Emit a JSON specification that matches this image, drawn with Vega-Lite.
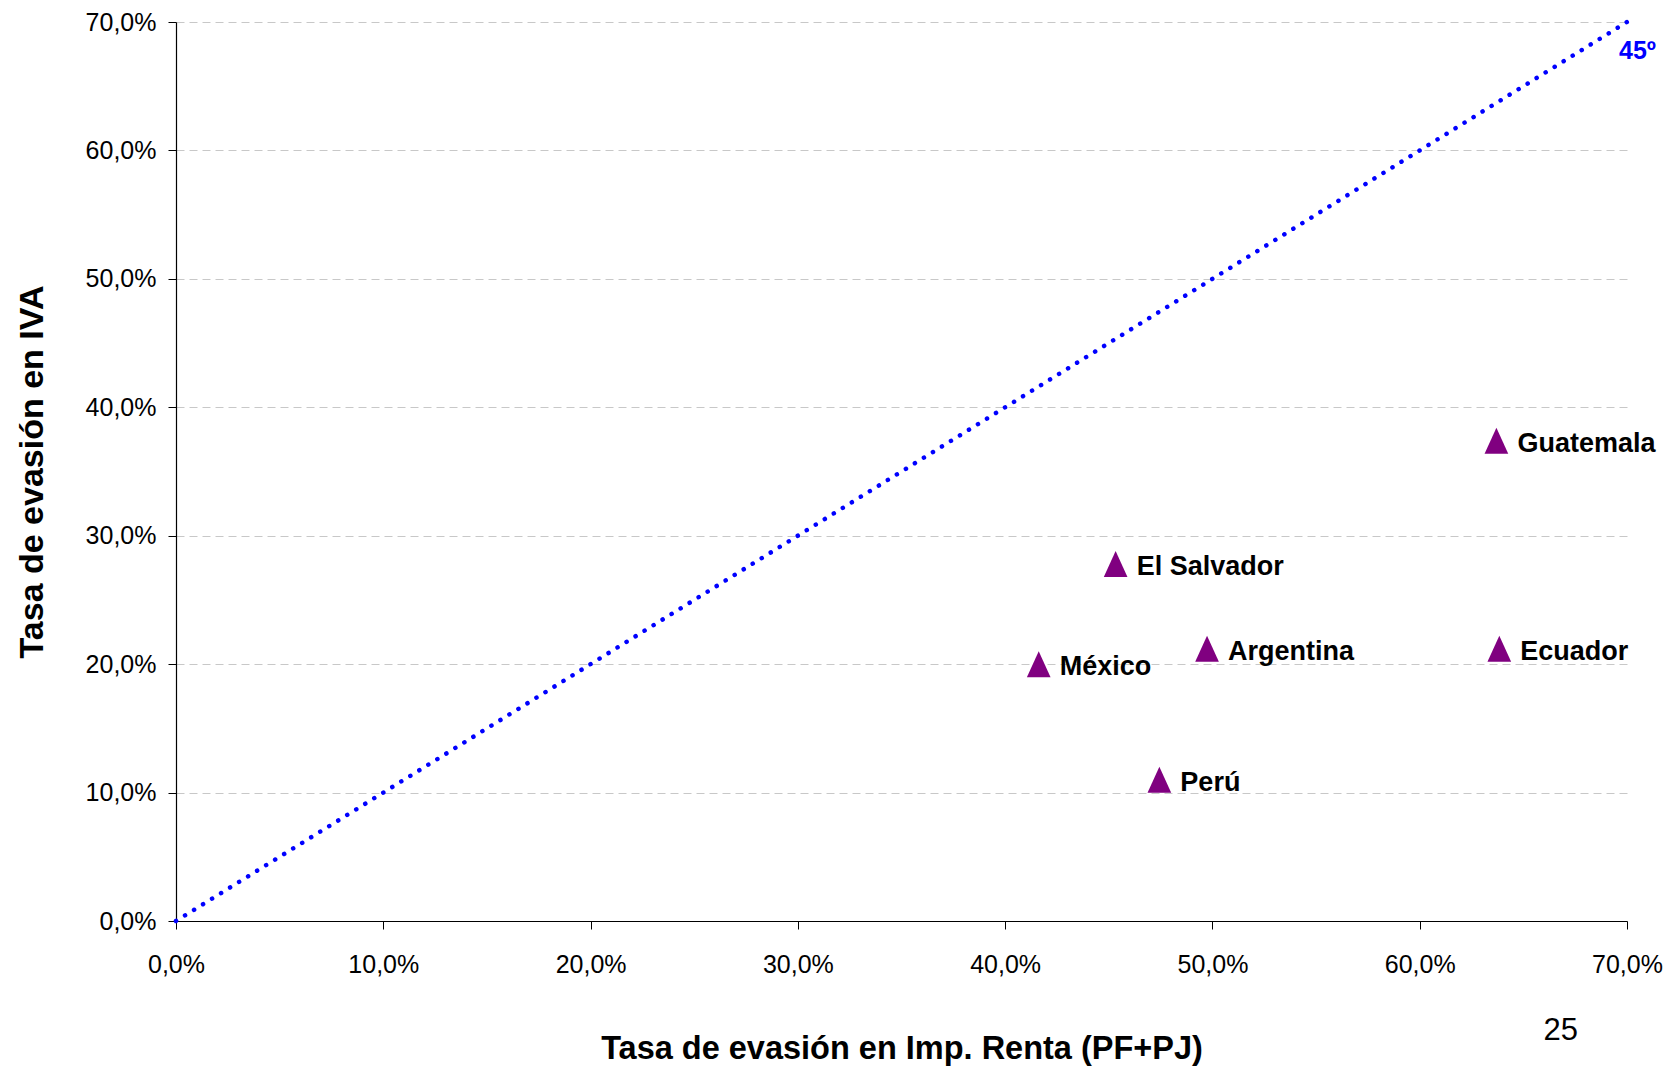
{
  "$schema": "https://vega.github.io/schema/vega-lite/v6.json",
  "width": 1451,
  "height": 899,
  "autosize": {"type": "none"},
  "padding": {"left": 176, "top": 22, "right": 42, "bottom": 145},
  "background": "white",
  "config": {
    "view": {"stroke": null},
    "font": "Liberation Sans",
    "axis": {
      "domainColor": "black",
      "domainWidth": 1.2,
      "tickColor": "black",
      "tickSize": 8,
      "labelFont": "Liberation Sans",
      "labelFontSize": 25,
      "labelColor": "black",
      "titleFont": "Liberation Sans",
      "titleFontSize": 34,
      "titleFontWeight": "bold",
      "titleColor": "black"
    }
  },
  "title": {
    "text": "25",
    "orient": "bottom",
    "anchor": "end",
    "frame": "group",
    "fontSize": 31,
    "fontWeight": "normal",
    "font": "Liberation Sans",
    "color": "black",
    "offset": 0,
    "dx": -49,
    "dy": -49
  },
  "datasets": {
    "paises": [
      {"pais": "Guatemala", "x": 0.637, "y": 0.374},
      {"pais": "El Salvador", "x": 0.4533, "y": 0.278},
      {"pais": "México", "x": 0.4162, "y": 0.200},
      {"pais": "Argentina", "x": 0.4974, "y": 0.212},
      {"pais": "Ecuador", "x": 0.6384, "y": 0.212},
      {"pais": "Perú", "x": 0.4744, "y": 0.110}
    ],
    "diag": [
      {"x": 0, "y": 0, "t": "45º"},
      {"x": 0.7, "y": 0.7, "t": "45º"}
    ]
  },
  "encoding": {
    "x": {
      "field": "x",
      "type": "quantitative",
      "scale": {"domain": [0, 0.7], "nice": false, "zero": true},
      "axis": {
        "values": [0, 0.1, 0.2, 0.3, 0.4, 0.5, 0.6, 0.7],
        "labelExpr": "replace(format(datum.value, '.1%'), '.', ',')",
        "labelFlush": false,
        "grid": false,
        "labelPadding": 23,
        "title": "Tasa de evasión en Imp. Renta (PF+PJ)",
        "titleFontSize": 32.5,
        "titlePadding": 55
      }
    },
    "y": {
      "field": "y",
      "type": "quantitative",
      "scale": {"domain": [0, 0.7], "nice": false, "zero": true},
      "axis": {
        "values": [0, 0.1, 0.2, 0.3, 0.4, 0.5, 0.6, 0.7],
        "labelExpr": "replace(format(datum.value, '.1%'), '.', ',')",
        "grid": true,
        "gridColor": "#c8c8c8",
        "gridDash": [8, 5],
        "gridWidth": 1,
        "labelPadding": 12,
        "title": "Tasa de evasión en IVA",
        "titlePadding": 36
      }
    }
  },
  "layer": [
    {
      "data": {"name": "diag"},
      "mark": {"type": "line", "color": "#0000FF", "strokeWidth": 4.5, "strokeDash": [0.1, 10.5], "strokeCap": "round"}
    },
    {
      "data": {"name": "diag"},
      "transform": [{"filter": "datum.x > 0.5"}],
      "mark": {"type": "text", "color": "#0000FF", "fontWeight": "bold", "fontSize": 25, "align": "left", "baseline": "middle", "dx": -8, "dy": 29},
      "encoding": {"text": {"field": "t"}}
    },
    {
      "data": {"name": "paises"},
      "mark": {"type": "point", "filled": true, "opacity": 1, "color": "#800080", "shape": "M0,-1.1L-1,1.1L1,1.1Z", "size": 560}
    },
    {
      "data": {"name": "paises"},
      "mark": {"type": "text", "color": "black", "fontWeight": "bold", "fontSize": 27, "align": "left", "baseline": "middle", "dx": 21, "dy": 3},
      "encoding": {"text": {"field": "pais"}}
    }
  ]
}
